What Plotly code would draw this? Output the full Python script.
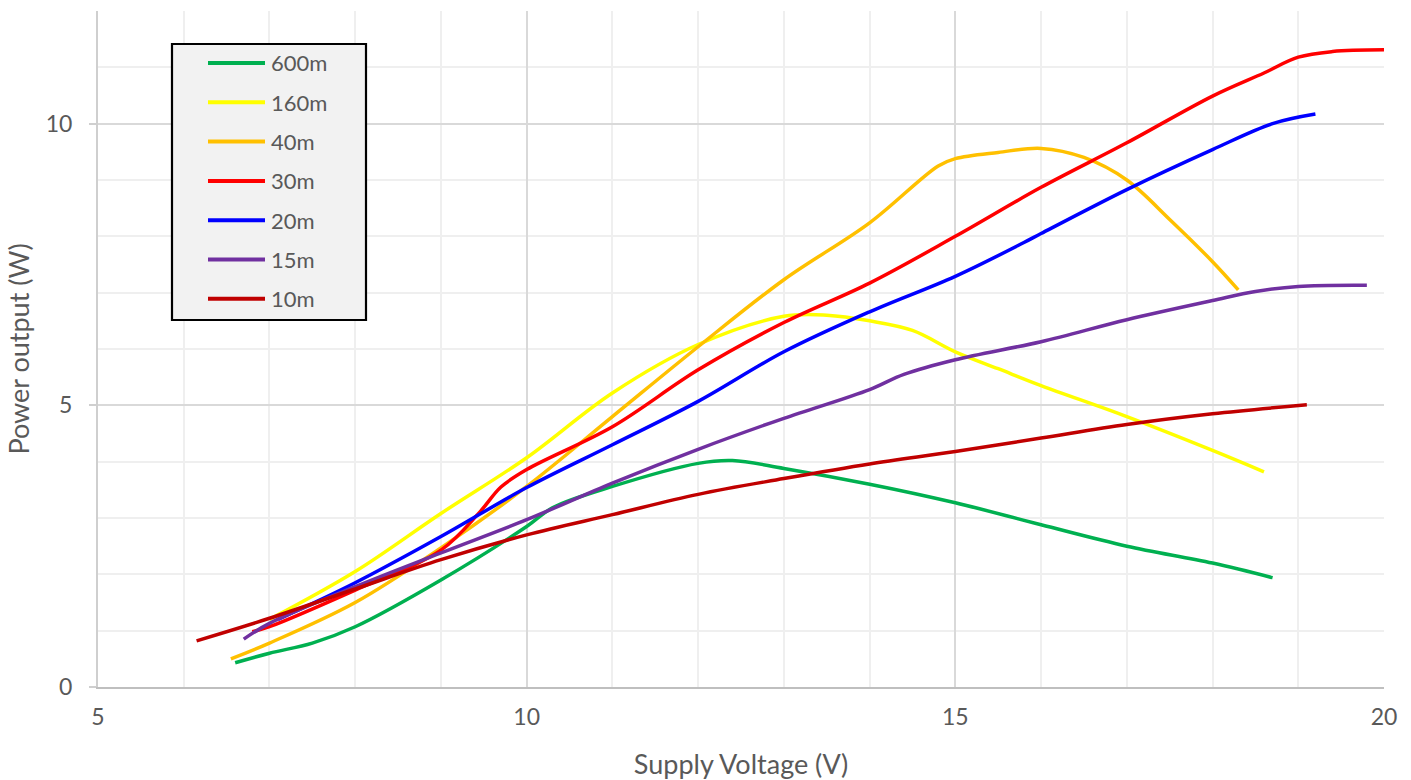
import plotly.graph_objects as go

# Supply voltage (V) and measured power output (W) per band
v_600m = [6.6, 7.0, 7.5, 8.0, 9.0, 10.0, 10.3, 11.0, 12.0, 12.4, 13.0, 14.0, 15.0, 16.0, 17.0, 18.0, 18.7]
p_600m = [0.43, 0.6, 0.78, 1.07, 1.9, 2.85, 3.18, 3.56, 3.97, 4.02, 3.88, 3.6, 3.27, 2.88, 2.5, 2.2, 1.94]

v_160m = [7.0, 8.0, 9.0, 10.0, 11.0, 12.0, 13.0, 13.5, 14.0, 14.5, 15.0, 15.5, 16.0, 17.0, 18.0, 18.6]
p_160m = [1.2, 2.05, 3.08, 4.07, 5.22, 6.08, 6.58, 6.6, 6.5, 6.33, 5.95, 5.65, 5.35, 4.8, 4.2, 3.82]

v_40m = [6.55, 7.0, 8.0, 9.0, 10.0, 11.0, 12.0, 13.0, 14.0, 14.8, 15.0, 15.5, 16.0, 16.5, 17.0, 17.5, 18.0, 18.3]
p_40m = [0.5, 0.78, 1.5, 2.47, 3.56, 4.8, 6.04, 7.23, 8.24, 9.25, 9.38, 9.49, 9.56, 9.4, 9.0, 8.3, 7.55, 7.05]

v_30m = [6.8, 7.0, 8.0, 9.0, 9.45, 9.7, 10.0, 11.0, 12.0, 13.0, 14.0, 15.0, 16.0, 17.0, 18.0, 18.6, 19.0, 19.4, 20.0]
p_30m = [0.98, 1.07, 1.72, 2.43, 3.1, 3.55, 3.86, 4.62, 5.63, 6.47, 7.17, 8.0, 8.87, 9.66, 10.49, 10.9, 11.18, 11.28, 11.31]

v_20m = [7.1, 8.0, 9.0, 10.0, 11.0, 12.0, 13.0, 14.0, 15.0, 15.8, 16.0, 17.0, 18.0, 18.7, 19.2]
p_20m = [1.2, 1.85, 2.67, 3.54, 4.3, 5.07, 5.95, 6.66, 7.29, 7.89, 8.05, 8.83, 9.54, 10.0, 10.17]

v_15m = [6.7, 7.0, 8.0, 9.0, 10.0, 11.0, 12.0, 13.0, 14.0, 14.4, 15.0, 16.0, 17.0, 18.0, 18.5, 19.0, 19.8]
p_15m = [0.85, 1.13, 1.78, 2.38, 2.97, 3.62, 4.22, 4.77, 5.28, 5.55, 5.81, 6.13, 6.52, 6.86, 7.02, 7.11, 7.13]

v_10m = [6.15, 7.0, 8.0, 9.0, 10.0, 11.0, 12.0, 13.0, 14.0, 15.0, 16.0, 17.0, 18.0, 19.1]
p_10m = [0.82, 1.22, 1.74, 2.26, 2.7, 3.06, 3.42, 3.7, 3.96, 4.18, 4.42, 4.66, 4.85, 5.01]

series = [
    ("600m", v_600m, p_600m, "#00B050"),
    ("160m", v_160m, p_160m, "#FFFF00"),
    ("40m", v_40m, p_40m, "#FFC000"),
    ("30m", v_30m, p_30m, "#FF0000"),
    ("20m", v_20m, p_20m, "#0000FF"),
    ("15m", v_15m, p_15m, "#7030A0"),
    ("10m", v_10m, p_10m, "#C00000"),
]

font_family = "Lato, 'Open Sans', sans-serif"
text_gray = "#595959"

W, H = 1411, 780
M = dict(l=98, r=27, t=11, b=93)
plot_w = W - M["l"] - M["r"]
plot_h = H - M["t"] - M["b"]


def px_to_paper(x_px, y_px):
    """Convert a page pixel position to paper coordinates of the plot area."""
    return (x_px - M["l"]) / plot_w, 1 - (y_px - M["t"]) / plot_h


fig = go.Figure()
for name, xs, ys, color in series:
    fig.add_trace(go.Scatter(
        x=xs, y=ys, name=name, mode="lines",
        line=dict(color=color, width=3.5, shape="spline", smoothing=1.0),
        showlegend=False,
    ))

# Boxed legend in the upper-left corner of the plot area
box_x0, box_y0 = px_to_paper(172, 44)
box_x1, box_y1 = px_to_paper(366, 320)
shapes = [dict(type="rect", xref="paper", yref="paper",
               x0=box_x0, x1=box_x1, y0=box_y1, y1=box_y0,
               fillcolor="#f2f2f2", line=dict(color="#000000", width=2.2), layer="above")]
annotations = []
row_top, row_step = 63, 39.3
for i, (name, _, _, color) in enumerate(series):
    ry = row_top + i * row_step
    lx0, ly = px_to_paper(208, ry)
    lx1, _ = px_to_paper(265, ry)
    tx, _ = px_to_paper(269, ry)
    shapes.append(dict(type="line", xref="paper", yref="paper",
                       x0=lx0, x1=lx1, y0=ly, y1=ly,
                       line=dict(color=color, width=4), layer="above"))
    annotations.append(dict(xref="paper", yref="paper", x=tx, y=ly,
                            text=name, showarrow=False, xanchor="left", yanchor="middle",
                            font=dict(size=22, color=text_gray, family=font_family)))

fig.update_layout(
    width=W, height=H,
    margin=M,
    paper_bgcolor="white", plot_bgcolor="white",
    font=dict(family=font_family, color=text_gray),
    showlegend=False,
    shapes=shapes,
    annotations=annotations,
    xaxis=dict(
        range=[5, 20], dtick=5, tick0=5,
        showgrid=True, gridcolor="#d9d9d9", gridwidth=2,
        minor=dict(dtick=1, showgrid=True, gridcolor="#efefef", gridwidth=2),
        showline=True, linecolor="#bfbfbf", linewidth=2,
        zeroline=False, ticks="", ticklabelstandoff=8, automargin=False,
        tickfont=dict(size=23, color=text_gray),
        title=dict(text="Supply Voltage (V)", font=dict(size=27, color=text_gray), standoff=30),
    ),
    yaxis=dict(
        range=[0, 12], dtick=5, tick0=0,
        showgrid=True, gridcolor="#d9d9d9", gridwidth=2,
        minor=dict(dtick=1, showgrid=True, gridcolor="#efefef", gridwidth=2),
        showline=True, linecolor="#cfcfcf", linewidth=2,
        zeroline=False, ticks="outside", ticklen=7, tickcolor="#cfcfcf", tickwidth=2,
        ticklabelstandoff=12, automargin=False,
        tickfont=dict(size=23, color=text_gray),
        title=dict(text="Power output (W)", font=dict(size=27, color=text_gray), standoff=8),
    ),
)

fig.write_html("out.html")
